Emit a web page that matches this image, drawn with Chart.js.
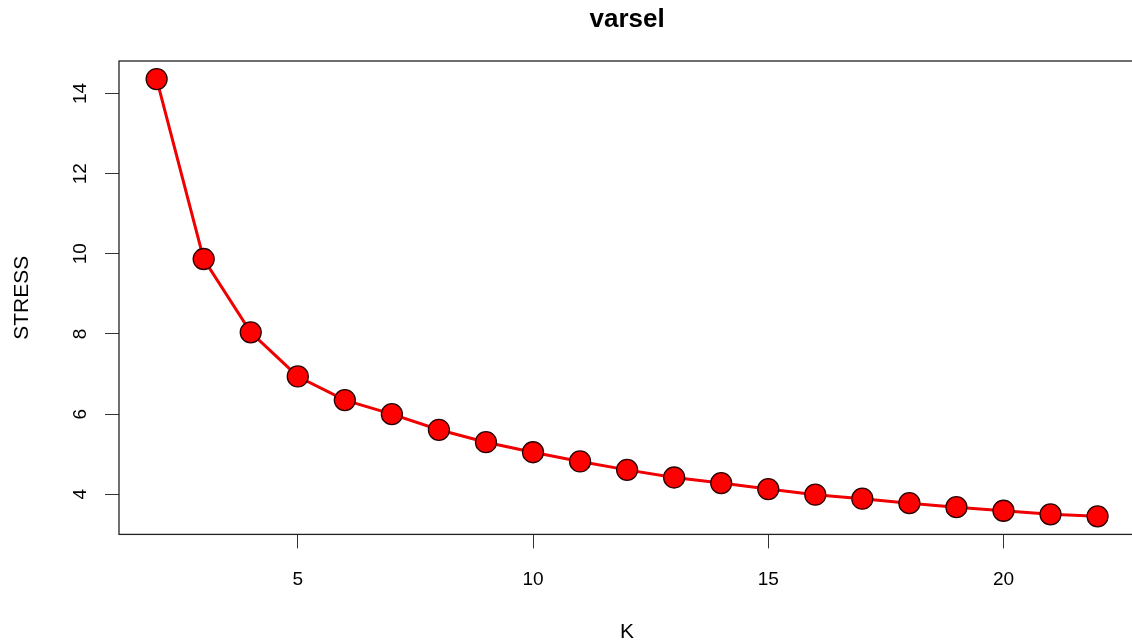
<!DOCTYPE html>
<html>
<head>
<meta charset="utf-8">
<script src="https://cdn.jsdelivr.net/npm/chart.js@4/dist/chart.umd.min.js"></script>
<style>
  html, body { margin: 0; padding: 0; background: #fff; }
  #wrap { width: 1132px; height: 643px; overflow: hidden; }
</style>
</head>
<body>
<div id="wrap"><canvas id="varsel" width="1147" height="643"></canvas></div>
<script>
// K values and their STRESS
const kValues = [2, 3, 4, 5, 6, 7, 8, 9, 10, 11, 12, 13, 14, 15, 16, 17, 18, 19, 20, 21, 22];
const stressValues = [14.36, 9.87, 8.04, 6.94, 6.35, 6.00, 5.61, 5.30, 5.05, 4.82, 4.61,
                      4.42, 4.28, 4.13, 3.99, 3.89, 3.78, 3.68, 3.59, 3.50, 3.45];
const xTickValues = [5, 10, 15, 20];
const yTickValues = [4, 6, 8, 10, 12, 14];

const FONT = "'Liberation Sans', Arial, Helvetica, sans-serif";

// R draws a box round the plot region
const plotBox = {
    id: "plotBox",
    beforeDatasetsDraw(chart) {
        const { ctx, chartArea: a } = chart;
        ctx.save();
        ctx.strokeStyle = "#222";
        ctx.lineWidth = 1.3;
        ctx.strokeRect(a.left, a.top, a.right - a.left, a.bottom - a.top);
        ctx.restore();
    }
};

const points = kValues.map((k, i) => ({ x: k, y: stressValues[i] }));

new Chart(document.getElementById("varsel").getContext("2d"), {
    type: "line",
    data: {
        datasets: [{
            data: points,
            borderColor: "#f00000",
            borderWidth: 3,
            pointRadius: 10.5,
            pointBackgroundColor: "#ff0000",
            pointBorderColor: "#2a0000",
            pointBorderWidth: 1.3,
            tension: 0
        }]
    },
    options: {
        responsive: false,
        animation: false,
        devicePixelRatio: 1,
        layout: { padding: { top: 0, left: 0, right: 6, bottom: 0 } },
        plugins: {
            legend: { display: false },
            tooltip: { enabled: false },
            title: {
                display: true,
                fullSize: false,
                text: "varsel",
                color: "#000",
                font: { family: FONT, size: 26, weight: "bold", lineHeight: 1.2 },
                padding: { top: 4.3, bottom: 25.5 }
            }
        },
        scales: {
            x: {
                type: "linear",
                min: 1.2,
                max: 22.8,
                afterFit: s => { s.height = 108.6; },
                afterBuildTicks: s => { s.ticks = xTickValues.map(v => ({ value: v })); },
                grid: { drawOnChartArea: false, drawTicks: true, tickLength: 14, color: "#333", lineWidth: 1 },
                border: { display: false },
                ticks: { color: "#000", padding: 20, maxRotation: 0, font: { family: FONT, size: 19 } },
                title: {
                    display: true, text: "K", color: "#000",
                    font: { family: FONT, size: 21, lineHeight: 1.0 },
                    padding: { top: 0, bottom: 0.5 }
                }
            },
            y: {
                type: "linear",
                min: 3.0,
                max: 14.81,
                afterFit: s => { s.width = 119; },
                afterBuildTicks: s => { s.ticks = yTickValues.map(v => ({ value: v })); },
                grid: { drawOnChartArea: false, drawTicks: true, tickLength: 14, color: "#333", lineWidth: 1 },
                border: { display: false },
                ticks: {
                    color: "#000", padding: 14, minRotation: 90, maxRotation: 90,
                    crossAlign: "center", font: { family: FONT, size: 19 }
                },
                title: {
                    display: true, text: "STRESS", color: "#000",
                    font: { family: FONT, size: 21, lineHeight: 1.2 },
                    padding: { top: 9.5, bottom: 0 }
                }
            }
        }
    },
    plugins: [plotBox]
});
</script>
</body>
</html>
